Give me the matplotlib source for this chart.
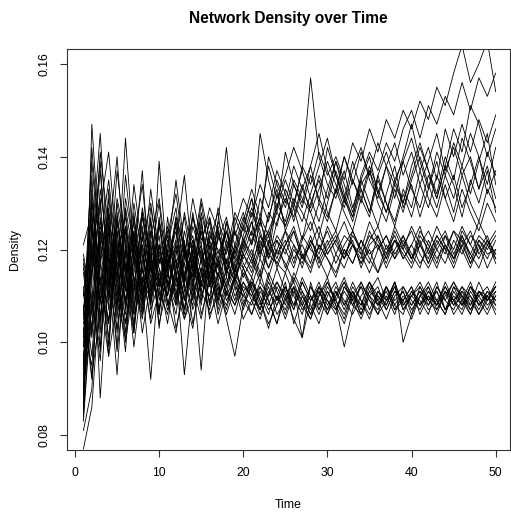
import numpy as np
import matplotlib
matplotlib.use("Agg")
import matplotlib.pyplot as plt

plt.rcParams['font.family'] = ['Liberation Sans', 'DejaVu Sans']

# time steps and simulated network densities (in thousandths)
time = list(range(1, 51))

high_runs = [
    [95, 131, 112, 125, 108, 119, 104, 116, 110, 121, 112, 118, 107, 120, 113, 117, 110, 121, 114, 119,
     124, 118, 128, 125, 133, 129, 138, 134, 141, 136, 140, 135, 143, 139, 146, 141, 148, 144, 150, 146,
     152, 148, 155, 151, 158, 164, 156, 160, 165, 154],
    [104, 118, 139, 110, 127, 115, 122, 108, 126, 113, 119, 110, 124, 116, 121, 112, 126, 142, 123, 128,
     121, 131, 126, 135, 130, 138, 133, 129, 136, 131, 139, 134, 128, 136, 141, 137, 143, 139, 146, 150,
     144, 151, 147, 153, 149, 156, 150, 157, 153, 158],
    [88, 125, 108, 131, 116, 102, 124, 111, 119, 107, 115, 126, 113, 121, 109, 118, 124, 115, 120, 126,
     133, 127, 138, 131, 136, 142, 137, 157, 140, 134, 131, 137, 129, 135, 140, 132, 138, 143, 136, 141,
     134, 139, 145, 137, 142, 136, 140, 133, 138, 131],
    [112, 97, 121, 135, 118, 128, 113, 122, 130, 117, 123, 132, 119, 127, 121, 129, 124, 117, 125, 131,
     127, 134, 129, 137, 132, 126, 133, 138, 130, 142, 136, 131, 139, 133, 128, 136, 141, 135, 130, 138,
     143, 137, 132, 140, 135, 144, 139, 133, 141, 136],
    [99, 142, 118, 104, 126, 111, 130, 118, 109, 139, 116, 127, 120, 112, 125, 118, 129, 122, 116, 121,
     128, 123, 119, 130, 126, 134, 129, 136, 131, 127, 133, 140, 135, 130, 137, 132, 128, 135, 139, 133,
     129, 136, 131, 138, 134, 127, 135, 130, 137, 128],
    [107, 115, 129, 141, 120, 109, 127, 115, 133, 119, 124, 113, 128, 119, 131, 122, 117, 126, 121, 127,
     123, 145, 135, 128, 141, 134, 130, 138, 145, 137, 132, 140, 134, 141, 136, 143, 138, 131, 139, 144,
     137, 142, 135, 146, 140, 147, 141, 148, 143, 149],
    [83, 109, 133, 119, 99, 125, 114, 106, 121, 112, 125, 117, 109, 122, 115, 127, 119, 124, 117, 122,
     118, 126, 121, 132, 125, 130, 137, 131, 126, 133, 139, 132, 127, 135, 130, 125, 132, 138, 129, 134,
     127, 133, 139, 131, 136, 129, 134, 140, 132, 137],
    [116, 103, 124, 112, 137, 121, 110, 128, 117, 106, 121, 129, 114, 120, 127, 112, 123, 119, 128, 124,
     131, 120, 127, 133, 124, 129, 122, 130, 135, 128, 124, 131, 127, 134, 137, 130, 126, 133, 128, 135,
     140, 134, 129, 136, 131, 138, 132, 139, 145, 134],
    [92, 136, 104, 128, 113, 144, 119, 108, 124, 116, 110, 122, 136, 117, 124, 114, 126, 121, 115, 123,
     129, 124, 118, 126, 131, 127, 134, 128, 123, 130, 137, 131, 126, 133, 128, 136, 130, 125, 132, 127,
     134, 129, 136, 131, 126, 133, 128, 124, 130, 126],
    [101, 122, 145, 116, 105, 129, 118, 137, 112, 126, 119, 135, 121, 113, 128, 120, 125, 114, 127, 122,
     126, 119, 124, 129, 135, 130, 126, 132, 138, 144, 136, 130, 137, 142, 135, 131, 138, 134, 140, 147,
     139, 133, 141, 136, 143, 138, 145, 140, 134, 142],
    [86, 147, 120, 109, 131, 122, 106, 127, 118, 130, 114, 126, 118, 131, 122, 127, 116, 124, 119, 125,
     131, 125, 140, 134, 129, 135, 131, 128, 133, 139, 134, 129, 135, 131, 138, 133, 128, 134, 130, 136,
     142, 137, 131, 138, 146, 141, 151, 147, 140, 146],
    [110, 128, 98, 122, 140, 115, 126, 109, 123, 131, 117, 124, 112, 127, 118, 122, 128, 115, 121, 118,
     122, 127, 123, 128, 125, 131, 128, 124, 130, 126, 133, 128, 124, 131, 127, 135, 130, 126, 133, 129,
     137, 131, 127, 134, 128, 136, 130, 126, 133, 129],
]

mid_runs = [
    [118, 106, 127, 113, 122, 104, 119, 128, 111, 117, 123, 109, 120, 114, 126, 112, 118, 124, 115, 121,
     117, 122, 116, 120, 124, 118, 121, 117, 123, 119, 122, 118, 124, 120, 117, 123, 119, 125, 121, 118,
     122, 117, 121, 124, 119, 123, 118, 122, 120, 123],
    [90, 121, 102, 133, 115, 125, 107, 121, 114, 126, 110, 119, 127, 115, 121, 108, 124, 117, 113, 120,
     126, 119, 123, 116, 121, 125, 119, 115, 121, 118, 114, 120, 117, 122, 118, 115, 121, 118, 123, 119,
     116, 122, 118, 121, 117, 123, 119, 116, 121, 118],
    [105, 139, 117, 97, 128, 112, 134, 120, 108, 125, 116, 121, 113, 125, 119, 115, 122, 127, 118, 116,
     120, 115, 122, 118, 124, 121, 116, 122, 119, 125, 121, 118, 123, 120, 126, 122, 118, 124, 120, 117,
     123, 120, 125, 121, 118, 124, 121, 126, 122, 119],
    [81, 90, 122, 110, 130, 117, 103, 124, 116, 111, 122, 115, 107, 119, 112, 124, 118, 110, 121, 116,
     112, 118, 114, 120, 117, 113, 119, 116, 121, 118, 115, 120, 117, 122, 119, 121, 116, 120, 123, 118,
     121, 117, 122, 119, 124, 120, 116, 121, 118, 122],
    [121, 128, 105, 121, 110, 136, 119, 112, 129, 118, 113, 127, 121, 116, 130, 119, 114, 122, 118, 125,
     121, 127, 118, 123, 120, 116, 122, 126, 120, 124, 119, 123, 121, 117, 122, 125, 120, 123, 118, 121,
     125, 119, 123, 120, 116, 121, 124, 119, 122, 117],
    [97, 113, 141, 124, 102, 121, 111, 129, 119, 106, 127, 114, 122, 109, 118, 126, 113, 120, 124, 117,
     114, 120, 116, 122, 119, 124, 118, 121, 116, 120, 123, 118, 121, 119, 115, 120, 123, 118, 121, 124,
     119, 116, 120, 123, 118, 121, 117, 122, 119, 120],
    [108, 92, 118, 127, 114, 98, 123, 116, 105, 121, 113, 108, 118, 123, 111, 119, 116, 112, 120, 114,
     118, 113, 121, 117, 115, 120, 117, 122, 118, 114, 119, 116, 121, 117, 120, 115, 119, 122, 118, 121,
     117, 120, 116, 121, 118, 122, 117, 120, 123, 118],
    [94, 133, 111, 104, 119, 127, 109, 117, 124, 112, 119, 125, 111, 117, 108, 121, 114, 126, 113, 119,
     115, 121, 124, 119, 122, 117, 123, 120, 118, 122, 117, 121, 124, 119, 123, 121, 117, 122, 120, 125,
     121, 118, 123, 120, 124, 122, 119, 123, 121, 124],
    [115, 101, 125, 118, 107, 131, 121, 113, 127, 109, 117, 122, 114, 128, 117, 123, 120, 116, 124, 119,
     116, 123, 119, 117, 121, 124, 118, 121, 125, 119, 122, 126, 121, 118, 124, 120, 123, 119, 122, 118,
     124, 121, 117, 123, 120, 125, 121, 118, 122, 119],
    [87, 115, 130, 99, 124, 108, 121, 134, 115, 123, 108, 116, 121, 111, 124, 116, 109, 118, 113, 122,
     119, 114, 120, 122, 116, 121, 118, 123, 117, 121, 124, 119, 122, 116, 121, 123, 118, 122, 119, 116,
     121, 124, 120, 117, 122, 119, 123, 121, 116, 120],
]

low_runs = [
    [102, 125, 109, 118, 98, 114, 122, 106, 117, 112, 120, 108, 115, 119, 106, 113, 117, 110, 114, 108,
     112, 107, 113, 109, 115, 110, 106, 112, 108, 113, 109, 105, 111, 107, 112, 108, 110, 106, 112, 109,
     107, 111, 108, 113, 109, 106, 111, 108, 110, 107],
    [84, 111, 96, 124, 109, 101, 118, 113, 92, 116, 109, 102, 114, 110, 118, 105, 112, 107, 115, 111,
     106, 112, 109, 104, 110, 113, 108, 105, 111, 107, 112, 109, 106, 110, 113, 108, 111, 107, 109, 112,
     108, 110, 106, 111, 109, 107, 112, 108, 111, 109],
    [96, 120, 131, 107, 115, 124, 102, 119, 110, 127, 112, 120, 109, 116, 112, 122, 108, 116, 112, 110,
     113, 108, 115, 111, 106, 112, 101, 109, 113, 108, 111, 107, 112, 109, 105, 111, 108, 113, 100, 106,
     112, 109, 107, 111, 108, 112, 110, 106, 109, 111],
    [119, 108, 99, 126, 112, 106, 128, 110, 121, 103, 118, 111, 105, 113, 120, 108, 115, 111, 106, 113,
     110, 115, 109, 104, 112, 108, 114, 110, 107, 112, 109, 113, 110, 106, 111, 114, 109, 112, 108, 110,
     113, 109, 111, 107, 112, 110, 108, 113, 109, 112],
    [91, 104, 123, 115, 93, 120, 108, 116, 104, 111, 106, 117, 110, 103, 115, 109, 113, 105, 97, 108,
     114, 109, 103, 110, 107, 112, 109, 105, 110, 114, 108, 99, 107, 113, 109, 106, 112, 108, 111, 107,
     110, 113, 109, 106, 111, 108, 112, 110, 107, 111],
    [106, 130, 114, 101, 121, 109, 116, 125, 108, 119, 113, 106, 119, 113, 109, 117, 111, 108, 114, 110,
     108, 113, 110, 116, 111, 107, 113, 109, 112, 106, 110, 114, 109, 112, 107, 111, 109, 113, 108, 111,
     109, 106, 112, 109, 113, 110, 107, 111, 109, 113],
    [77, 86, 112, 105, 118, 100, 113, 107, 122, 114, 104, 116, 93, 112, 105, 114, 109, 116, 110, 113,
     109, 105, 111, 108, 113, 104, 110, 107, 112, 109, 106, 112, 110, 108, 113, 109, 105, 110, 112, 108,
     111, 109, 113, 107, 110, 108, 112, 109, 106, 110],
    [111, 93, 106, 120, 108, 117, 99, 114, 109, 118, 115, 109, 121, 107, 113, 110, 118, 112, 108, 115,
     111, 107, 112, 106, 109, 115, 111, 108, 104, 110, 113, 108, 111, 106, 110, 112, 107, 111, 109, 105,
     110, 112, 108, 111, 106, 109, 113, 108, 110, 112],
    [99, 116, 137, 112, 103, 115, 124, 110, 116, 107, 119, 112, 117, 122, 110, 115, 107, 113, 117, 109,
     106, 111, 108, 113, 110, 105, 101, 113, 107, 111, 108, 104, 110, 113, 109, 107, 112, 108, 106, 111,
     108, 112, 107, 110, 113, 109, 106, 111, 108, 110],
    [85, 127, 88, 116, 124, 107, 118, 102, 113, 121, 108, 114, 106, 118, 111, 107, 115, 109, 113, 107,
     113, 110, 106, 112, 108, 114, 110, 106, 112, 109, 107, 111, 108, 112, 110, 106, 109, 113, 107, 110,
     112, 108, 111, 107, 109, 112, 108, 111, 110, 106],
    [103, 95, 118, 129, 111, 104, 115, 121, 107, 113, 110, 121, 112, 108, 116, 113, 104, 111, 108, 112,
     110, 107, 114, 109, 112, 108, 111, 106, 110, 113, 109, 106, 111, 108, 113, 110, 107, 111, 109, 112,
     106, 110, 108, 112, 109, 111, 107, 110, 112, 108],
    [88, 119, 110, 97, 109, 125, 113, 105, 118, 110, 116, 103, 111, 115, 94, 118, 112, 106, 112, 105,
     109, 112, 107, 110, 105, 111, 108, 112, 109, 106, 111, 108, 113, 109, 106, 110, 108, 112, 107, 110,
     108, 111, 109, 106, 112, 108, 110, 107, 111, 109],
    [117, 102, 114, 108, 126, 115, 106, 112, 119, 104, 112, 118, 105, 110, 116, 106, 110, 114, 109, 116,
     111, 106, 110, 113, 109, 112, 107, 110, 106, 111, 107, 112, 109, 105, 110, 108, 112, 109, 111, 106,
     110, 108, 112, 109, 107, 111, 109, 106, 110, 108],
    [93, 107, 126, 119, 106, 113, 102, 123, 111, 115, 107, 113, 117, 104, 114, 119, 106, 112, 116, 111,
     113, 109, 104, 108, 112, 107, 113, 109, 111, 107, 110, 113, 108, 106, 111, 109, 112, 107, 110, 108,
     111, 107, 109, 112, 108, 110, 106, 111, 109, 112],
]

runs = high_runs + mid_runs + low_runs

W, H = 511, 514
fig = plt.figure(figsize=(W / 100, H / 100), dpi=100)
ax = fig.add_axes([67 / W, (H - 450) / H, (510 - 67) / W, (450 - 49) / H])

for r in runs:
    ax.plot(time, np.array(r) / 1000, color='black', linewidth=0.6)

# R style: ylim c(0.08, 0.16) padded by 4%
ax.set_xlim(-0.95, 51.7)
ax.set_ylim(0.0768, 0.1632)
ax.set_xticks([0, 10, 20, 30, 40, 50])
ax.set_yticks([0.08, 0.10, 0.12, 0.14, 0.16])
ax.set_yticklabels(['0.08', '0.10', '0.12', '0.14', '0.16'], rotation=90, va='center')
ax.tick_params(direction='out', length=5, width=0.8, labelsize=8.8, pad=7, color='#333333')
for s in ax.spines.values():
    s.set_linewidth(0.8)
    s.set_color('#333333')

fig.text(288.5 / W, 1 - 18 / H, 'Network Density over Time', ha='center', va='center',
         fontsize=11.2, fontweight='bold')
fig.text(288.5 / W, 1 - 505 / H, 'Time', ha='center', va='center', fontsize=8.8)
fig.text(15 / W, 1 - 250 / H, 'Density', ha='center', va='center', rotation=90, fontsize=8.8)

fig.savefig('out.png', dpi=100)
